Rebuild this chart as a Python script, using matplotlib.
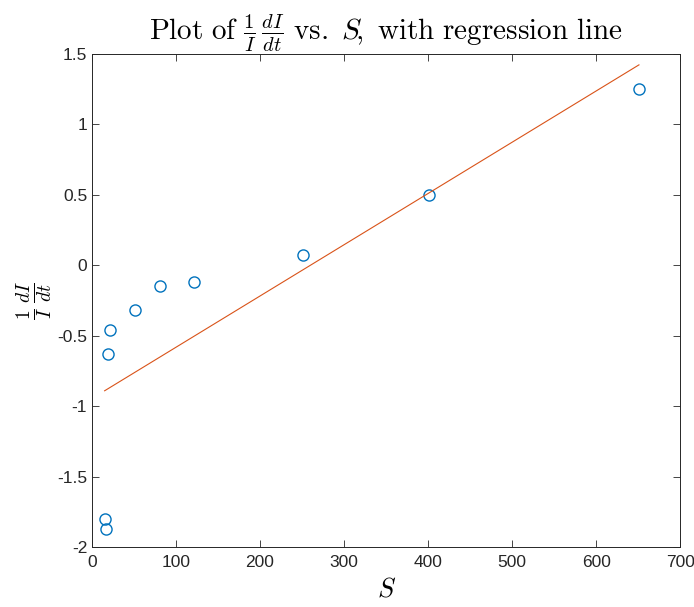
import numpy as np
import matplotlib
matplotlib.use("Agg")
import matplotlib.pyplot as plt

plt.rcParams["mathtext.fontset"] = "cm"
plt.rcParams["font.family"] = ["Liberation Sans", "DejaVu Sans"]

# Susceptible population and per-capita growth rate of infections
S = [15, 17, 19, 21, 51, 81, 121, 251, 401, 651]
growth = [-1.80, -1.87, -0.63, -0.46, -0.32, -0.15, -0.12, 0.07, 0.50, 1.25]

xticks = [0, 100, 200, 300, 400, 500, 600, 700]
yticks = [-2, -1.5, -1, -0.5, 0, 0.5, 1, 1.5]
ytick_labels = ["-2", "-1.5", "-1", "-0.5", "0", "0.5", "1", "1.5"]

# Least-squares fit over the observed range of S
slope, intercept = np.polyfit(S, growth, 1)
fit_x = np.array([min(S), max(S)])
fit_y = slope * fit_x + intercept

fig = plt.figure(figsize=(6.94, 6.07), dpi=100)
ax = fig.add_axes([0.1326, 0.0988, 0.8474, 0.8122])

ax.plot(S, growth, linestyle="none", marker="o", markersize=8,
        markerfacecolor="none", markeredgecolor="#0072BD", markeredgewidth=1.0)
ax.plot(fit_x, fit_y, color="#D95319", linewidth=0.8)

ax.set_xlim(0, 700)
ax.set_ylim(-2, 1.5)
ax.set_xticks(xticks)
ax.set_xticklabels([str(t) for t in xticks])
ax.set_yticks(yticks)
ax.set_yticklabels(ytick_labels)
ax.tick_params(direction="in", top=True, right=True, labelsize=12.5,
               length=5, width=0.6, colors="#262626", labelcolor="#262626")
ax.tick_params(axis="x", pad=6)
for sp in ax.spines.values():
    sp.set_linewidth(0.7)
    sp.set_color("#262626")

ax.set_title(r"$\mathrm{Plot\ of\ }\frac{1}{I}\,\frac{dI}{dt}\mathrm{\ vs.\ }S\!\mathrm{,\ with\ regression\ line}$",
             fontsize=21, pad=10)
ax.set_xlabel(r"$S$", fontsize=19, labelpad=5)
ax.set_ylabel(r"$\frac{1}{I}\,\frac{dI}{dt}$", fontsize=20, labelpad=2)

fig.savefig("out.png", dpi=100, facecolor="white")
